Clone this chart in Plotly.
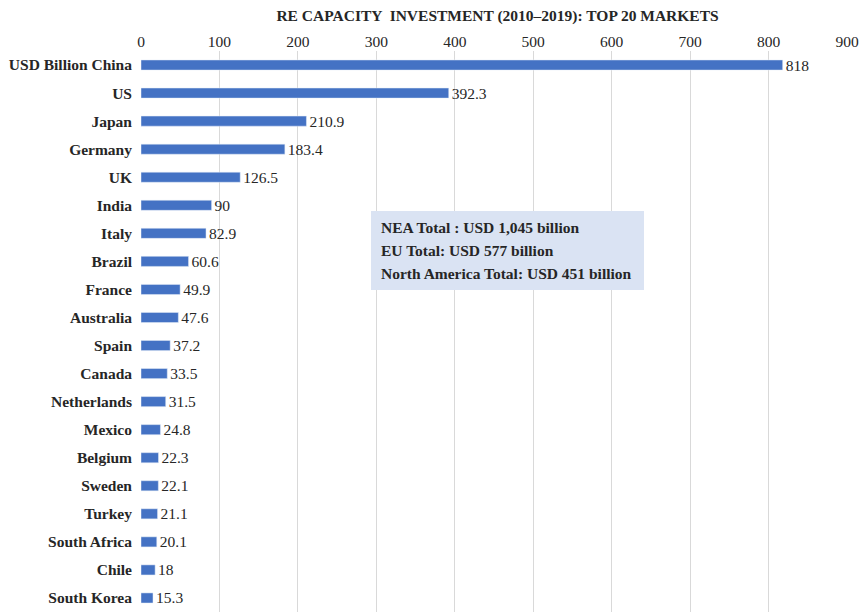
import plotly.graph_objects as go

countries = ["USD Billion China", "US", "Japan", "Germany", "UK", "India", "Italy", "Brazil",
             "France", "Australia", "Spain", "Canada", "Netherlands", "Mexico", "Belgium",
             "Sweden", "Turkey", "South Africa", "Chile", "South Korea"]
values = [818, 392.3, 210.9, 183.4, 126.5, 90, 82.9, 60.6, 49.9, 47.6, 37.2, 33.5, 31.5,
          24.8, 22.3, 22.1, 21.1, 20.1, 18, 15.3]
value_labels = ["818", "392.3", "210.9", "183.4", "126.5", "90", "82.9", "60.6", "49.9", "47.6",
                "37.2", "33.5", "31.5", "24.8", "22.3", "22.1", "21.1", "20.1", "18", "15.3"]
tick_vals = [0, 100, 200, 300, 400, 500, 600, 700, 800, 900]
box_lines = ["NEA Total : USD 1,045 billion", "EU Total: USD 577 billion",
             "North America Total: USD 451 billion"]

FONT = "Liberation Serif"

fig = go.Figure()
fig.add_trace(go.Bar(
    y=countries, x=values, orientation="h",
    marker=dict(color="#4472c4"),
    text=value_labels, textposition="outside", cliponaxis=False,
    constraintext="none",
    textfont=dict(family=FONT, size=15.5, color="#262626"),
    hoverinfo="x+y",
))

fig.update_layout(
    width=861, height=612,
    margin=dict(l=141, r=14, t=51, b=0),
    plot_bgcolor="white", paper_bgcolor="white",
    bargap=0.64,
    showlegend=False,
    title=dict(text="<b>RE CAPACITY  INVESTMENT (2010–2019): TOP 20 MARKETS</b>",
               xref="paper", x=0.505, xanchor="center",
               yref="container", y=0.975, yanchor="middle",
               font=dict(family=FONT, size=15.5, color="#262626")),
    xaxis=dict(side="top", range=[0, 900], tickvals=tick_vals,
               showgrid=True, gridcolor="#d9d9d9", gridwidth=1,
               zeroline=False, showline=False, ticks="",
               tickfont=dict(family=FONT, size=15.5, color="#262626")),
    yaxis=dict(autorange="reversed", showgrid=False, ticks="", showline=False,
               ticklabelstandoff=8,
               tickfont=dict(family=FONT, size=15.5, color="#262626", weight="bold")),
)

# annotation box
x0 = (371 - 141) / 706
x1 = (644 - 141) / 706
y0 = (612 - 290) / 561
y1 = (612 - 211) / 561
fig.add_shape(type="rect", xref="paper", yref="paper", x0=x0, x1=x1, y0=y0, y1=y1,
              fillcolor="#dae3f3", line=dict(width=0), layer="above")
for i, line in enumerate(box_lines):
    ypix = 227 + i * 23
    fig.add_annotation(xref="paper", yref="paper", x=(379 - 141) / 706,
                       y=(612 - ypix) / 561, xanchor="left", yanchor="middle",
                       text="<b>" + line + "</b>", showarrow=False,
                       font=dict(family=FONT, size=15.5, color="#262626"))

fig.write_html("out.html")
